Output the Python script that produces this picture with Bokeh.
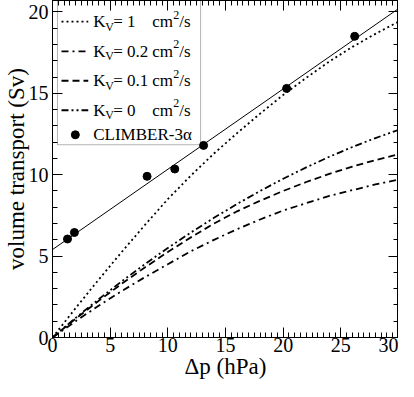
from bokeh.plotting import figure
from bokeh.models import LinearAxis, SingleIntervalTicker, BoxAnnotation, Label, Range1d
from bokeh.embed import file_html
from bokeh.resources import INLINE

# ---- data ----
x_curve = [0, 2, 4, 6, 8, 10, 12, 14, 16, 18, 20, 22, 24, 26, 28, 30]
kv_1 = [0, 1.8, 3.55, 5.25, 6.9, 8.5, 9.95, 11.3, 12.55, 13.75, 14.9, 15.95, 16.95, 17.85, 18.65, 19.4]
kv_02 = [0, 1.0, 1.95, 2.85, 3.7, 4.5, 5.3, 6.0, 6.65, 7.25, 7.8, 8.25, 8.7, 9.05, 9.4, 9.7]
kv_01 = [0, 1.15, 2.25, 3.3, 4.3, 5.25, 6.15, 7.0, 7.75, 8.4, 9.0, 9.55, 10.05, 10.5, 10.9, 11.25]
kv_0 = [0, 1.2, 2.35, 3.45, 4.5, 5.5, 6.45, 7.35, 8.2, 9.0, 9.75, 10.45, 11.1, 11.7, 12.25, 12.75]
climber_x = [1.3, 1.9, 8.2, 10.6, 13.1, 20.3, 26.2]
climber_y = [6.05, 6.45, 9.9, 10.35, 11.8, 15.3, 18.5]
fit_x = [0, 30]
fit_y = [5.4, 20.2]

legend_values = ["1   ", "0.2", "0.1", "0    "]
legend_dashes = ["2 3", "7 4 2 4", "7 4", "7 3 2 3 2 3"]
climber_label = "CLIMBER-3α"

FONT = "'Liberation Serif', 'Times New Roman', serif"

p = figure(width=398, height=381, x_range=Range1d(0, 30), y_range=Range1d(0, 20.7),
           output_backend="svg", toolbar_location=None,
           min_border_left=0, min_border_right=0, min_border_top=0, min_border_bottom=0)
p.xgrid.visible = False
p.ygrid.visible = False
p.outline_line_color = "black"
p.background_fill_color = "white"

bottom = p.below[0]
left = p.left[0]
bottom.ticker = SingleIntervalTicker(interval=5, num_minor_ticks=10)
left.ticker = SingleIntervalTicker(interval=5, num_minor_ticks=5)
top = LinearAxis(ticker=SingleIntervalTicker(interval=5, num_minor_ticks=10))
right = LinearAxis(ticker=SingleIntervalTicker(interval=5, num_minor_ticks=5))
p.add_layout(top, "above")
p.add_layout(right, "right")

for ax in (bottom, left, top, right):
    ax.major_tick_in = 10
    ax.major_tick_out = 0
    ax.minor_tick_in = 5
    ax.minor_tick_out = 0
    ax.axis_line_color = "black"
    ax.major_tick_line_color = "black"
    ax.minor_tick_line_color = "black"
    ax.major_label_text_font = FONT
    ax.major_label_text_font_size = "20px"
    ax.major_label_text_color = "black"
    ax.axis_label_text_font = FONT
    ax.axis_label_text_font_size = "23px"
    ax.axis_label_text_font_style = "normal"
    ax.axis_label_text_color = "black"

for ax in (top, right):
    ax.major_label_text_font_size = "0px"
    ax.major_label_text_color = None
    ax.major_label_standoff = 0

bottom.axis_label = "Δp (hPa)"
bottom.major_label_standoff = 0
bottom.axis_label_standoff = -1
left.axis_label = "volume transport (Sv)"
left.major_label_standoff = 4
left.axis_label_standoff = -3

# curves
p.line(fit_x, fit_y, line_color="black", line_width=1)
p.line(x_curve, kv_1, line_color="black", line_width=1.8, line_dash=legend_dashes[0])
p.line(x_curve, kv_02, line_color="black", line_width=1.8, line_dash=legend_dashes[1])
p.line(x_curve, kv_01, line_color="black", line_width=1.8, line_dash=legend_dashes[2])
p.line(x_curve, kv_0, line_color="black", line_width=1.8, line_dash=legend_dashes[3])
p.scatter(climber_x, climber_y, size=8, color="black")

# legend (manual, for sub/superscripts)
box = BoxAnnotation(left=0.43, right=12.84, bottom=11.84, top=20.7, level="underlay",
                    fill_color="white", fill_alpha=1, line_color="black", line_width=1)
p.add_layout(box)
row_y = [19.40, 17.58, 15.77, 13.96, 12.45]
text_x = 3.53
for i, (val, dash) in enumerate(zip(legend_values, legend_dashes)):
    y = row_y[i]
    p.line([0.78, 3.10], [y, y], line_color="black", line_width=1.8, line_dash=dash)
    pieces = [("K", 0, 0, "17px"), ("V", 12, -5, "12px"), ("= " + val, 20, 0, "17px"),
              ("cm", 59, 0, "17px"), ("2", 80, 7, "12px"), ("/s", 86, 0, "17px")]
    for txt, xo, yo, fs in pieces:
        p.add_layout(Label(x=text_x, y=y, x_offset=xo, y_offset=yo, text=txt,
                           text_font=FONT, text_font_size=fs, text_baseline="middle",
                           text_color="black"))
p.scatter([1.98], [row_y[4]], size=8, color="black")
p.add_layout(Label(x=text_x, y=row_y[4], text=climber_label, text_font=FONT,
                   text_font_size="17px", text_baseline="middle", text_color="black"))

open("out.html", "w").write(file_html(p, INLINE))
